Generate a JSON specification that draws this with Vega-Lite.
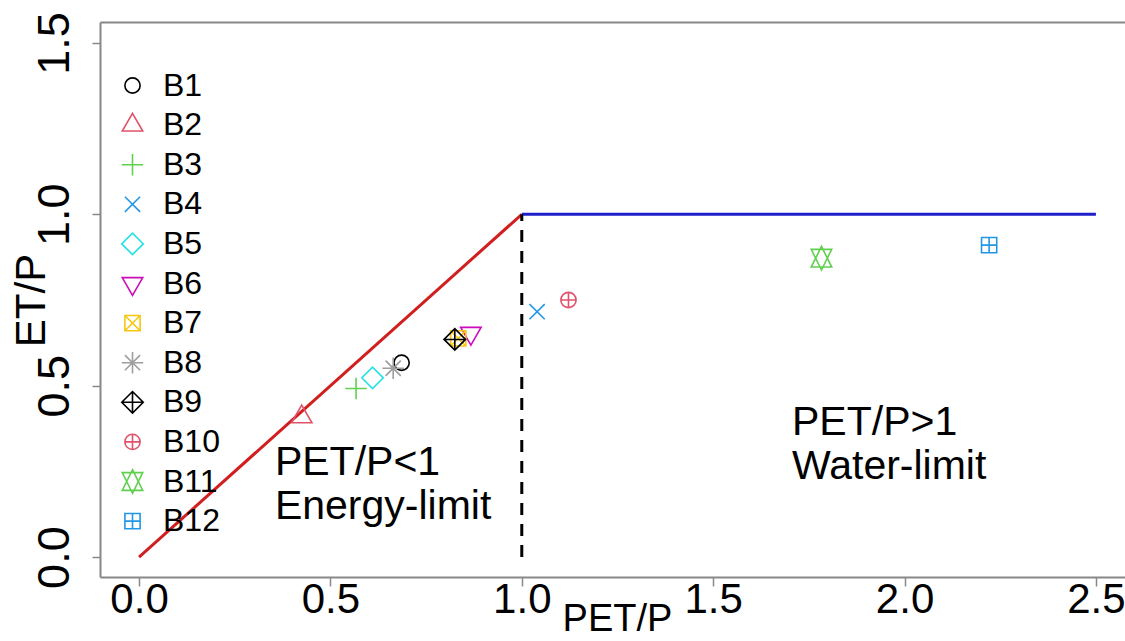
{
  "$schema": "https://vega.github.io/schema/vega-lite/v6.json",
  "width": 1025,
  "height": 555,
  "autosize": {"type": "none"},
  "padding": {"left": 100, "top": 22, "right": 0, "bottom": 64},
  "background": "white",
  "config": {
    "view": {"stroke": null},
    "font": "Liberation Sans",
    "axisBottom": {
      "domainColor": "#888888", "domainWidth": 2,
      "tickColor": "#888888", "tickSize": 9, "tickWidth": 1.5,
      "labelFont": "Liberation Sans", "labelFontSize": 42, "labelColor": "#000000",
      "labelPadding": -7, "labelFlush": false, "labelOverlap": false,
      "grid": false
    },
    "axisTop": {
      "domainColor": "#888888", "domainWidth": 2,
      "ticks": false, "labels": false, "grid": false
    },
    "axisLeft": {
      "domainColor": "#888888", "domainWidth": 2,
      "tickColor": "#888888", "tickSize": 8, "tickWidth": 1.5,
      "labelFont": "Liberation Sans", "labelFontSize": 45, "labelColor": "#000000",
      "labelAngle": 270, "labelAlign": "center", "labelBaseline": "alphabetic",
      "labelPadding": 24, "labelFlush": false, "labelOverlap": false,
      "grid": false
    }
  },
  "datasets": {
    "energy": [{"x": 0, "y": 0}, {"x": 1, "y": 1}],
    "water": [{"x": 1, "y": 1}, {"x": 2.5, "y": 1}],
    "divide": [{"x": 1, "y": 0, "y2": 1}],
    "basins": [
      {"basin": "B1", "pet_p": 0.686, "et_p": 0.567},
      {"basin": "B2", "pet_p": 0.425, "et_p": 0.409},
      {"basin": "B3", "pet_p": 0.567, "et_p": 0.492},
      {"basin": "B4", "pet_p": 1.040, "et_p": 0.716},
      {"basin": "B5", "pet_p": 0.610, "et_p": 0.523},
      {"basin": "B6", "pet_p": 0.867, "et_p": 0.653},
      {"basin": "B7", "pet_p": 0.834, "et_p": 0.638},
      {"basin": "B8", "pet_p": 0.664, "et_p": 0.551},
      {"basin": "B9", "pet_p": 0.825, "et_p": 0.635},
      {"basin": "B10", "pet_p": 1.122, "et_p": 0.750},
      {"basin": "B11", "pet_p": 1.783, "et_p": 0.872},
      {"basin": "B12", "pet_p": 2.221, "et_p": 0.910}
    ],
    "notes": [
      {"x": 0.355, "y": 0.239, "label": "PET/P<1\nEnergy-limit"},
      {"x": 1.706, "y": 0.356, "label": "PET/P>1\nWater-limit"}
    ]
  },
  "resolve": {"axis": {"x": "independent"}},
  "layer": [
    {
      "data": {"name": "energy"},
      "mark": {"type": "line", "color": "#D11F1F", "strokeWidth": 3},
      "encoding": {
        "x": {"field": "x", "type": "quantitative",
              "scale": {"domain": [-0.102, 2.576], "nice": false, "zero": false},
              "axis": {"orient": "bottom", "values": [0, 0.5, 1, 1.5, 2, 2.5], "format": ".1f",
                       "title": "PET/P", "titleFont": "Liberation Sans", "titleFontSize": 38,
                       "titleFontWeight": "normal", "titleColor": "#000000",
                       "titleX": 517, "titleY": 53, "titleAlign": "center", "titleBaseline": "alphabetic"}},
        "y": {"field": "y", "type": "quantitative",
              "scale": {"domain": [-0.058, 1.561], "nice": false, "zero": false},
              "axis": {"orient": "left", "values": [0, 0.5, 1, 1.5], "format": ".1f",
                       "title": "ET/P", "titleFont": "Liberation Sans", "titleFontSize": 42,
                       "titleFontWeight": "normal", "titleColor": "#000000",
                       "titleAngle": 270, "titleX": -56, "titleY": 278,
                       "titleAlign": "center", "titleBaseline": "alphabetic"}}
      }
    },
    {
      "data": {"name": "water"},
      "mark": {"type": "line", "color": "#1E1ECC", "strokeWidth": 3},
      "encoding": {
        "x": {"field": "x", "type": "quantitative",
              "scale": {"domain": [-0.102, 2.576], "nice": false, "zero": false},
              "axis": {"orient": "top", "title": null}},
        "y": {"field": "y", "type": "quantitative",
              "scale": {"domain": [-0.058, 1.561], "nice": false, "zero": false},
              "axis": {"orient": "left", "values": [0, 0.5, 1, 1.5], "format": ".1f",
                       "title": "ET/P", "titleFont": "Liberation Sans", "titleFontSize": 42,
                       "titleFontWeight": "normal", "titleColor": "#000000",
                       "titleAngle": 270, "titleX": -56, "titleY": 278,
                       "titleAlign": "center", "titleBaseline": "alphabetic"}}
      }
    },
    {
      "data": {"name": "divide"},
      "mark": {"type": "rule", "color": "#000000", "strokeWidth": 3, "strokeDash": [12, 9]},
      "encoding": {
        "x": {"field": "x", "type": "quantitative",
              "scale": {"domain": [-0.102, 2.576], "nice": false, "zero": false}, "axis": null},
        "y": {"field": "y", "type": "quantitative",
              "scale": {"domain": [-0.058, 1.561], "nice": false, "zero": false},
              "axis": {"orient": "left", "values": [0, 0.5, 1, 1.5], "format": ".1f",
                       "title": "ET/P", "titleFont": "Liberation Sans", "titleFontSize": 42,
                       "titleFontWeight": "normal", "titleColor": "#000000",
                       "titleAngle": 270, "titleX": -56, "titleY": 278,
                       "titleAlign": "center", "titleBaseline": "alphabetic"}},
        "y2": {"field": "y2"}
      }
    },
    {
      "data": {"name": "basins"},
      "mark": {"type": "point", "filled": false, "strokeWidth": 1.6, "size": 231, "opacity": 1},
      "encoding": {
        "x": {"field": "pet_p", "type": "quantitative",
              "scale": {"domain": [-0.102, 2.576], "nice": false, "zero": false}, "axis": null},
        "y": {"field": "et_p", "type": "quantitative",
              "scale": {"domain": [-0.058, 1.561], "nice": false, "zero": false},
              "axis": {"orient": "left", "values": [0, 0.5, 1, 1.5], "format": ".1f",
                       "title": "ET/P", "titleFont": "Liberation Sans", "titleFontSize": 42,
                       "titleFontWeight": "normal", "titleColor": "#000000",
                       "titleAngle": 270, "titleX": -56, "titleY": 278,
                       "titleAlign": "center", "titleBaseline": "alphabetic"}},
        "color": {"field": "basin", "type": "nominal",
                  "scale": {"domain": ["B1","B2","B3","B4","B5","B6","B7","B8","B9","B10","B11","B12"],
                            "range": ["#000000","#DF536B","#61D04F","#2297E6","#28E2E5","#CD0BBC","#F5C710","#9E9E9E","#000000","#DF536B","#61D04F","#2297E6"]},
                  "legend": {"orient": "none", "legendX": 16.5, "legendY": 47.5, "title": null,
                             "labelFont": "Liberation Sans", "labelFontSize": 32, "labelColor": "#000000",
                             "symbolSize": 231, "symbolStrokeWidth": 1.6, "rowPadding": 7.6,
                             "labelOffset": 14.5, "padding": 0}},
        "shape": {"field": "basin", "type": "nominal",
                  "scale": {"domain": ["B1","B2","B3","B4","B5","B6","B7","B8","B9","B10","B11","B12"],
                            "range": [
                              "circle",
                              "M0,-1.555L1.347,0.778L-1.347,0.778Z",
                              "M-1.414,0L1.414,0M0,-1.414L0,1.414",
                              "M-1,-1L1,1M-1,1L1,-1",
                              "M-1.414,0L0,-1.414L1.414,0L0,1.414Z",
                              "M0,1.555L1.347,-0.778L-1.347,-0.778Z",
                              "M-1,-1L1,-1L1,1L-1,1ZM-1,-1L1,1M-1,1L1,-1",
                              "M-1,-1L1,1M-1,1L1,-1M-1.414,0L1.414,0M0,-1.414L0,1.414",
                              "M-1.414,0L0,-1.414L1.414,0L0,1.414ZM-1.414,0L1.414,0M0,-1.414L0,1.414",
                              "M1,0A1,1,0,1,1,-1,0A1,1,0,1,1,1,0ZM-1,0L1,0M0,-1L0,1",
                              "M0,-1.555L1.347,1.166L-1.347,1.166ZM0,1.555L1.347,-1.166L-1.347,-1.166Z",
                              "M-1,-1L1,-1L1,1L-1,1ZM-1,0L1,0M0,-1L0,1"
                            ]},
                  "legend": {"orient": "none", "legendX": 16.5, "legendY": 47.5, "title": null,
                             "labelFont": "Liberation Sans", "labelFontSize": 32, "labelColor": "#000000",
                             "symbolSize": 231, "symbolStrokeWidth": 1.6, "rowPadding": 7.6,
                             "labelOffset": 14.5, "padding": 0}}
      }
    },
    {
      "data": {"name": "notes"},
      "mark": {"type": "text", "align": "left", "baseline": "alphabetic", "font": "Liberation Sans",
               "fontSize": 41, "lineBreak": "\n", "lineHeight": 44, "color": "#000000"},
      "encoding": {
        "x": {"field": "x", "type": "quantitative",
              "scale": {"domain": [-0.102, 2.576], "nice": false, "zero": false}, "axis": null},
        "y": {"field": "y", "type": "quantitative",
              "scale": {"domain": [-0.058, 1.561], "nice": false, "zero": false},
              "axis": {"orient": "left", "values": [0, 0.5, 1, 1.5], "format": ".1f",
                       "title": "ET/P", "titleFont": "Liberation Sans", "titleFontSize": 42,
                       "titleFontWeight": "normal", "titleColor": "#000000",
                       "titleAngle": 270, "titleX": -56, "titleY": 278,
                       "titleAlign": "center", "titleBaseline": "alphabetic"}},
        "text": {"field": "label"}
      }
    }
  ]
}
